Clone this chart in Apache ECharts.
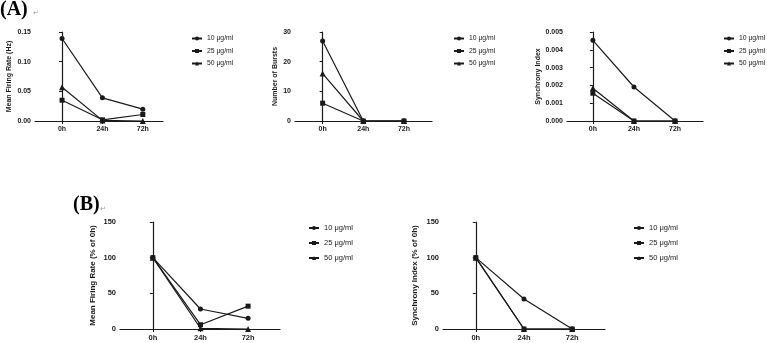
<!DOCTYPE html>
<html>
<head>
<meta charset="utf-8">
<script src="https://cdn.jsdelivr.net/npm/echarts@6/dist/echarts.min.js"></script>
<style>
  html, body { margin: 0; padding: 0; background: #fff; }
  #main { width: 767px; height: 343px; }
</style>
</head>
<body>
<div id="main"></div>
<script>
// time points and doses
var timepoints = ['0h', '24h', '72h'];
var doses = ['10 μg/ml', '25 μg/ml', '50 μg/ml'];
var markers = ['circle', 'rect', 'triangle'];

// (A) raw values
var firingRate10 = [0.139, 0.039, 0.020];
var firingRate25 = [0.035, 0.002, 0.011];
var firingRate50 = [0.057, 0.001, 0.0];

var bursts10 = [27, 0, 0];
var bursts25 = [6, 0, 0];
var bursts50 = [16, 0, 0];

var synchrony10 = [0.00453, 0.00191, 0];
var synchrony25 = [0.00156, 0, 0];
var synchrony50 = [0.00184, 0, 0];

// (B) normalised to 0h
var firingPct10 = [100, 28, 15];
var firingPct25 = [100, 6, 32];
var firingPct50 = [100, 1, 0];

var synchronyPct10 = [100, 42, 0];
var synchronyPct25 = [100, 0, 0];
var synchronyPct50 = [100, 0, 0];

var chart = echarts.init(document.getElementById('main'));
var font = 'Liberation Sans';
var ink = '#1a1a1a';

// panel layout
var panels = [
  { left: 35, width: 128, top: 32, height: 89, xmin: -0.67, xmax: 2.5,
    ymax: 0.15, step: 0.05, digits: 2, name: 'Mean Firing Rate (Hz)', gap: 22,
    sets: [firingRate10, firingRate25, firingRate50], legendLeft: 191, legendTop: 35, small: true },
  { left: 295, width: 137, top: 32, height: 89, xmin: -0.68, xmax: 2.69,
    ymax: 30, step: 10, digits: 0, name: 'Number of Bursts', gap: 16,
    sets: [bursts10, bursts25, bursts50], legendLeft: 453, legendTop: 35, small: true },
  { left: 567, width: 136, top: 32, height: 89, xmin: -0.63, xmax: 2.68,
    ymax: 0.005, step: 0.001, digits: 3, name: 'Synchrony Index', gap: 25,
    sets: [synchrony10, synchrony25, synchrony50], legendLeft: 723, legendTop: 35, small: true },
  { left: 120, width: 160, top: 222, height: 107, xmin: -0.69, xmax: 2.67,
    ymax: 150, step: 50, digits: 0, name: 'Mean Firing Rate (% of 0h)', gap: 23,
    sets: [firingPct10, firingPct25, firingPct50], legendLeft: 308, legendTop: 224, small: false },
  { left: 443, width: 162, top: 222, height: 107, xmin: -0.68, xmax: 2.68,
    ymax: 150, step: 50, digits: 0, name: 'Synchrony Index (% of 0h)', gap: 24,
    sets: [synchronyPct10, synchronyPct25, synchronyPct50], legendLeft: 633, legendTop: 224, small: false }
];

var grids = [], xAxes = [], yAxes = [], series = [], legends = [];

panels.forEach(function (p, k) {
  var fs = p.small ? 7 : 7.5;
  grids.push({ left: p.left, top: p.top, width: p.width, height: p.height });
  xAxes.push({
    type: 'value', gridIndex: k, min: p.xmin, max: p.xmax,
    splitLine: { show: false },
    axisLine: { lineStyle: { color: ink, width: 1.2 } },
    axisTick: { customValues: [0, 1, 2], length: 3, lineStyle: { color: ink } },
    axisLabel: {
      customValues: [0, 1, 2], margin: 5,
      fontFamily: font, fontWeight: 'bold', fontSize: fs, color: ink,
      formatter: function (v) { return timepoints[Math.round(v)]; }
    }
  });
  yAxes.push({
    type: 'value', gridIndex: k, min: 0, max: p.ymax, interval: p.step,
    name: p.name, nameLocation: 'middle', nameGap: p.gap,
    nameTextStyle: { fontFamily: font, fontWeight: 'bold', fontSize: p.small ? 7 : 8, color: ink },
    splitLine: { show: false },
    axisLine: { show: true, lineStyle: { color: ink, width: 1.2 } },
    axisTick: { show: true, length: 3, lineStyle: { color: ink } },
    axisLabel: {
      margin: 4, fontFamily: font, fontWeight: 'bold', fontSize: fs, color: ink,
      formatter: function (v) { return v.toFixed(p.digits); }
    }
  });
  p.sets.forEach(function (vals, s) {
    series.push({
      name: doses[s], type: 'line', xAxisIndex: k, yAxisIndex: k,
      symbol: markers[s], symbolSize: s === 2 ? 6 : 5,
      itemStyle: { color: ink },
      lineStyle: { color: ink, width: 1.2 },
      data: vals.map(function (v, i) { return [i, v]; })
    });
  });
  legends.push({
    orient: 'vertical', left: p.legendLeft, top: p.legendTop, padding: 0,
    itemWidth: 10, itemHeight: 5, itemGap: p.small ? 5.5 : 7,
    textStyle: { fontFamily: font, fontSize: p.small ? 6.8 : 7.5, color: ink },
    data: doses
  });
});

chart.setOption({
  animation: false,
  backgroundColor: '#fff',
  grid: grids,
  xAxis: xAxes,
  yAxis: yAxes,
  legend: legends,
  series: series,
  graphic: [
    { type: 'text', left: 0, top: 0, style: { text: '(A)', font: 'bold 20px "Liberation Serif"', fill: '#000' } },
    { type: 'text', left: 33, top: 10, style: { text: '↵', font: '7px "DejaVu Sans"', fill: '#999' } },
    { type: 'text', left: 73, top: 195, style: { text: '(B)', font: 'bold 20px "Liberation Serif"', fill: '#000' } },
    { type: 'text', left: 100, top: 206, style: { text: '↵', font: '7px "DejaVu Sans"', fill: '#999' } }
  ]
});
</script>
</body>
</html>
